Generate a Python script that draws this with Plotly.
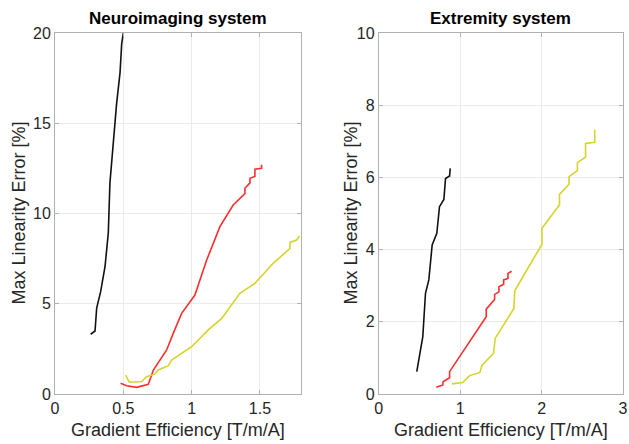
import plotly.graph_objects as go
from plotly.subplots import make_subplots

# Neuroimaging system
neuro_black_x = [0.261, 0.293, 0.305, 0.334, 0.366, 0.39, 0.402, 0.426, 0.444, 0.451, 0.476, 0.488, 0.5, 0.51]
neuro_black_y = [3.31, 3.49, 4.76, 5.67, 7.05, 8.92, 11.69, 13.9, 15.7, 16.1, 17.8, 19.4, 20.0, 20.6]
neuro_red_x = [0.48, 0.524, 0.598, 0.683, 0.72, 0.817, 0.866, 0.927, 1.024, 1.11, 1.207, 1.304, 1.39, 1.39, 1.427, 1.427, 1.463, 1.463, 1.512, 1.512]
neuro_red_y = [0.59, 0.46, 0.37, 0.54, 1.33, 2.44, 3.37, 4.47, 5.48, 7.42, 9.27, 10.47, 11.1, 11.4, 11.7, 11.95, 12.05, 12.45, 12.5, 12.7]
neuro_yel_x = [0.517, 0.544, 0.634, 0.67, 0.73, 0.756, 0.83, 0.853, 1.0, 1.122, 1.22, 1.353, 1.463, 1.597, 1.72, 1.72, 1.768, 1.79]
neuro_yel_y = [1.05, 0.65, 0.69, 0.96, 1.1, 1.33, 1.57, 1.88, 2.62, 3.55, 4.19, 5.58, 6.13, 7.24, 8.07, 8.4, 8.53, 8.75]

# Extremity system
ext_black_x = [0.467, 0.5, 0.541, 0.574, 0.615, 0.656, 0.713, 0.746, 0.8, 0.82, 0.87, 0.878]
ext_black_y = [0.62, 1.08, 1.59, 2.79, 3.16, 4.13, 4.45, 5.19, 5.39, 5.97, 6.04, 6.25]
ext_red_x = [0.706, 0.787, 0.79, 0.87, 0.87, 1.32, 1.32, 1.423, 1.423, 1.476, 1.476, 1.534, 1.534, 1.587, 1.587, 1.632]
ext_red_y = [0.19, 0.25, 0.34, 0.45, 0.62, 2.14, 2.35, 2.62, 2.76, 2.83, 2.97, 3.04, 3.16, 3.2, 3.34, 3.40]
ext_yel_x = [0.9, 1.03, 1.116, 1.24, 1.27, 1.41, 1.43, 1.66, 1.67, 2.005, 2.005, 2.22, 2.22, 2.337, 2.337, 2.44, 2.44, 2.54, 2.54, 2.653, 2.653]
ext_yel_y = [0.28, 0.32, 0.51, 0.59, 0.8, 1.13, 1.54, 2.37, 2.86, 4.15, 4.59, 5.24, 5.53, 5.81, 6.02, 6.19, 6.41, 6.56, 6.94, 6.97, 7.33]

titles = ["Neuroimaging system", "Extremity system"]
x_title = "Gradient Efficiency [T/m/A]"
y_title = "Max Linearity Error [%]"

BLACK = "#111111"
RED = "#ff2e2e"
YEL = "#d4d42c"
TXT = "#262626"

fig = make_subplots(rows=1, cols=2)
fig.update_layout(xaxis=dict(domain=[0, 0.433]), xaxis2=dict(domain=[0.570, 1.0]))

for xs, ys, c in [(neuro_black_x, neuro_black_y, BLACK), (neuro_red_x, neuro_red_y, RED), (neuro_yel_x, neuro_yel_y, YEL)]:
    fig.add_trace(go.Scatter(x=xs, y=ys, mode="lines", line=dict(color=c, width=1.6), showlegend=False), row=1, col=1)
for xs, ys, c in [(ext_black_x, ext_black_y, BLACK), (ext_red_x, ext_red_y, RED), (ext_yel_x, ext_yel_y, YEL)]:
    fig.add_trace(go.Scatter(x=xs, y=ys, mode="lines", line=dict(color=c, width=1.6), showlegend=False), row=1, col=2)

axis_common = dict(showline=True, linecolor="#b0b0b0", linewidth=1, mirror="ticks",
                   ticks="inside", ticklen=4, tickcolor="#b0b0b0", automargin=False,
                   showgrid=True, gridcolor="#ebebeb", gridwidth=1, zeroline=False,
                   tickfont=dict(size=16, color=TXT))

fig.update_xaxes(**axis_common)
fig.update_yaxes(**axis_common)
fig.update_xaxes(range=[0, 1.8], tickvals=[0, 0.5, 1, 1.5], ticktext=["0", "0.5", "1", "1.5"], row=1, col=1)
fig.update_xaxes(range=[0, 3], tickvals=[0, 1, 2, 3], row=1, col=2)
fig.update_yaxes(range=[0, 20], tickvals=[0, 5, 10, 15, 20], row=1, col=1)
fig.update_yaxes(range=[0, 10], tickvals=[0, 2, 4, 6, 8, 10], row=1, col=2)

for i, xd in enumerate(["x domain", "x2 domain"]):
    fig.add_annotation(text="<b>" + titles[i] + "</b>", xref=xd, yref="paper", x=0.5, y=1.0,
                       yanchor="bottom", yshift=3, showarrow=False, font=dict(size=17, color="black"))
    fig.add_annotation(text=x_title, xref=xd, yref="paper", x=0.5, y=0, yanchor="middle", yshift=-36,
                       showarrow=False, font=dict(size=18, color=TXT))
yd = ["y domain", "y2 domain"]
xpos = [18, 350]
for i in range(2):
    fig.add_annotation(text=y_title, xref="paper", yref=yd[i], x=(xpos[i] - 55) / 568, y=0.5,
                       xanchor="center", yanchor="middle", textangle=-90,
                       showarrow=False, font=dict(size=18, color=TXT))

fig.update_layout(width=629, height=444, margin=dict(l=55, r=6, t=33, b=50),
                  plot_bgcolor="white", paper_bgcolor="white",
                  font=dict(family="Liberation Sans, Arial, sans-serif"))

fig.write_html("out.html", config={"displayModeBar": False},
               post_script="document.body.style.margin='0';document.body.style.padding='0';")
